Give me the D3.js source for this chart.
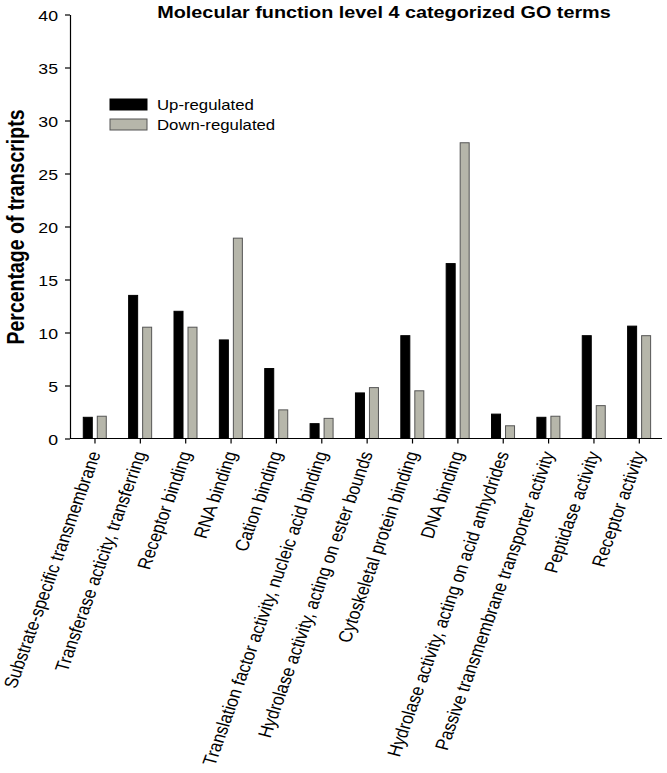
<!DOCTYPE html>
<html>
<head>
<meta charset="utf-8">
<script src="https://cdn.jsdelivr.net/npm/d3@7"></script>
<style>
  body { margin: 0; background: #fff; }
  svg { display: block; }
  text { font-family: "Liberation Sans", Arial, sans-serif; fill: #000; }
</style>
</head>
<body>
<svg id="chart" width="667" height="773"></svg>
<script>
const categories = [
  "Substrate-specific transmembrane",
  "Transferase acticity, transferring",
  "Receptor binding",
  "RNA binding",
  "Cation binding",
  "Translation factor activity, nucleic acid binding",
  "Hydrolase activity, acting on ester bounds",
  "Cytoskeletal protein binding",
  "DNA binding",
  "Hydrolase activity, acting on acid anhydrides",
  "Passive transmembrane transporter activity",
  "Peptidase activity",
  "Receptor activity"
];
const upRegulated   = [2.0, 13.5, 12.0, 9.3, 6.6, 1.4, 4.3, 9.7, 16.5, 2.3, 2.0, 9.7, 10.6];
const downRegulated = [2.1, 10.5, 10.5, 18.9, 2.7, 1.9, 4.8, 4.5, 27.9, 1.2, 2.1, 3.1, 9.7];
const seriesNames = ["Up-regulated", "Down-regulated"];
const yTicks = [0, 5, 10, 15, 20, 25, 30, 35, 40];
const titleText = "Molecular function level 4 categorized GO terms";
const yLabel = "Percentage of transcripts";

const colors = { "Up-regulated": "#000000", "Down-regulated": "#b6b6aa" };
const strokes = { "Up-regulated": "#000000", "Down-regulated": "#555555" };
const SX = 1.18; // horizontal text stretch

const svg = d3.select("#chart");
const axisX0 = 70, axisX1 = 662, yTop = 14.5, yBot = 438.5;

const x = d3.scaleBand().domain(categories).range([72.3, 662]).padding(0);
const y = d3.scaleLinear().domain([0, 40]).range([yBot, yTop]);
const x1 = d3.scaleBand().domain(seriesNames)
  .range([x.bandwidth() / 2 - 11.7, x.bandwidth() / 2 + 11.3]).paddingInner(0.357);

const rows = categories.map((c, i) => ({ cat: c, values: [
  { key: seriesNames[0], v: upRegulated[i] },
  { key: seriesNames[1], v: downRegulated[i] }
]}));

// bars
const g = svg.append("g");
g.selectAll("g.grp").data(rows).join("g")
  .attr("class", "grp")
  .attr("transform", d => `translate(${x(d.cat)},0)`)
  .selectAll("rect").data(d => d.values).join("rect")
  .attr("x", d => x1(d.key))
  .attr("y", d => y(d.v))
  .attr("width", x1.bandwidth())
  .attr("height", d => y(0) - y(d.v))
  .attr("fill", d => colors[d.key])
  .attr("stroke", d => strokes[d.key])
  .attr("stroke-width", 1);

// y axis
const yAxis = svg.append("g").attr("transform", `translate(${axisX0},0)`)
  .call(d3.axisLeft(y).tickValues(yTicks).tickSize(5).tickSizeOuter(0).tickPadding(0));
yAxis.select(".domain").attr("stroke", "#000").attr("stroke-width", 1.2);
yAxis.selectAll(".tick line").attr("stroke", "#000").attr("stroke-width", 1.2);
yAxis.selectAll(".tick text")
  .attr("x", null).attr("dy", null)
  .attr("font-size", 15)
  .attr("text-anchor", "end")
  .attr("transform", `translate(-12,5.5) scale(${SX},1)`);

// x axis
svg.append("line").attr("x1", axisX0).attr("x2", axisX1)
  .attr("y1", yBot).attr("y2", yBot).attr("stroke", "#000").attr("stroke-width", 1.2);
const xAxis = svg.append("g").attr("transform", `translate(0,${yBot})`)
  .call(d3.axisBottom(x).tickSize(5).tickSizeOuter(0));
xAxis.select(".domain").remove();
xAxis.selectAll(".tick line").attr("stroke", "#000").attr("stroke-width", 1.2);
xAxis.selectAll(".tick text")
  .attr("y", null).attr("dy", null)
  .attr("font-size", 16.2)
  .attr("text-anchor", "end")
  .attr("transform", `translate(6,15) scale(${SX},1) rotate(-73)`);

// y label
svg.append("text")
  .attr("transform", `translate(24,227) scale(${SX},1) rotate(-90)`)
  .attr("text-anchor", "middle")
  .attr("font-size", 19.5).attr("font-weight", "bold")
  .text(yLabel);

// title
svg.append("text")
  .attr("transform", `translate(384,18) scale(${SX},1)`)
  .attr("text-anchor", "middle")
  .attr("font-size", 16.8).attr("font-weight", "bold")
  .text(titleText);

// legend
const leg = svg.append("g").selectAll("g").data(seriesNames).join("g")
  .attr("transform", (d, i) => `translate(110,${99 + i * 20})`);
leg.append("rect").attr("width", 37).attr("height", 11)
  .attr("fill", d => colors[d]).attr("stroke", d => strokes[d]).attr("stroke-width", 1);
leg.append("text")
  .attr("transform", `translate(47,10.5) scale(${SX},1)`)
  .attr("font-size", 14.2)
  .text(d => d);
</script>
</body>
</html>
